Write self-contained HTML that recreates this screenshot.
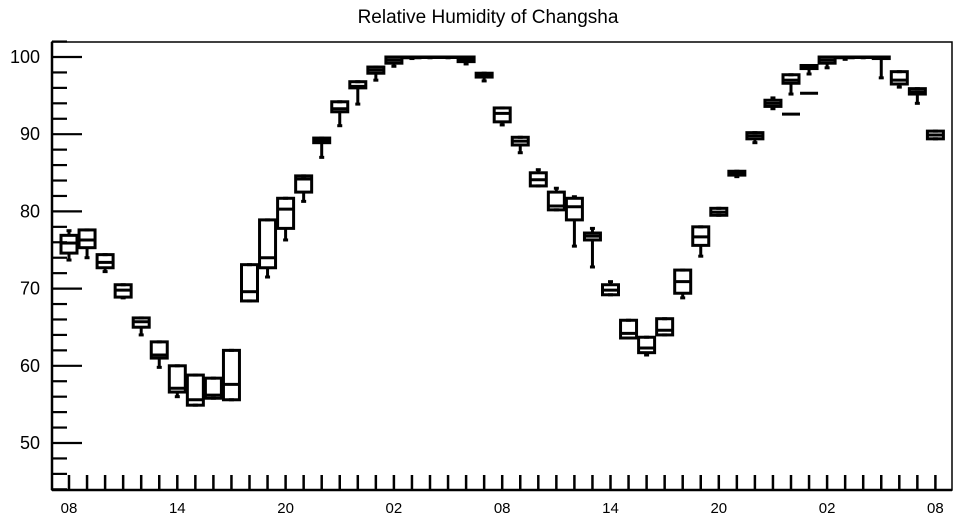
<!DOCTYPE html>
<html><head><meta charset="utf-8"><style>
body{margin:0;background:#fff;}
svg{display:block;font-family:"Liberation Sans",sans-serif;}
</style></head><body>
<svg id="chart" width="957" height="520" viewBox="0 0 957 520">
<text x="488" y="23" font-size="19" text-anchor="middle">Relative Humidity of Changsha</text>
<rect x="52" y="42" width="900" height="448" fill="none" stroke="#000" stroke-width="1.5"/>
<g id="axes"></g>
<g id="marks"></g>
</svg>
<script>
const hourLabels = ["08","14","20","02","08","14","20","02","08"];
const yTicks = [50,60,70,80,90,100];
const mins = [73.7,74.0,72.2,68.8,64.0,59.8,56.0,54.9,55.8,55.6,68.4,71.5,76.3,81.3,87.0,91.1,93.9,97.0,98.8,99.8,99.9,99.9,99.1,96.9,91.2,87.6,83.3,80.2,75.5,72.8,69.2,63.6,61.4,64.0,68.8,74.2,79.5,84.5,88.9,93.3,95.2,97.8,98.6,99.7,99.9,97.3,96.1,94.0,89.4];
const q1s = [74.6,75.3,72.7,68.9,65.0,61.0,56.6,54.9,55.8,55.6,68.4,72.7,77.8,82.5,88.9,92.9,96.0,97.9,99.2,99.9,100,100,99.4,97.4,91.6,88.6,83.3,80.2,78.9,76.3,69.2,63.6,61.7,64.0,69.4,75.6,79.5,84.7,89.4,93.6,96.6,98.5,99.2,99.9,100,99.8,96.5,95.2,89.4];
const medians = [75.9,76.3,73.4,69.8,65.7,61.4,57.1,55.6,56.2,57.6,69.6,74.0,80.3,84.2,89.2,93.3,96.2,98.3,99.6,100,100,100,99.7,97.6,92.7,89.1,84.1,80.7,80.6,76.8,69.8,64.2,62.3,64.6,70.9,76.7,79.9,85.0,89.8,94.0,97.0,98.7,99.6,100,100,100,97.0,95.5,89.9];
const q3s = [76.9,77.6,74.4,70.5,66.2,63.1,60.0,58.8,58.4,62.0,73.1,78.9,81.7,84.6,89.5,94.2,96.8,98.7,100,100,100,100,100,97.9,93.4,89.6,85.0,82.5,81.7,77.2,70.5,65.9,63.7,66.1,72.4,78.0,80.4,85.2,90.2,94.4,97.7,98.9,100,100,100,100,98.1,95.9,90.4];
const maxs = [77.5,77.6,74.4,70.5,66.2,63.1,60.0,58.8,58.4,62.0,73.1,78.9,81.7,84.6,89.5,94.2,96.8,98.7,100,100,100,100,100,97.9,93.4,89.6,85.4,83.0,81.9,77.8,70.9,65.9,63.7,66.1,72.4,78.0,80.4,85.2,90.2,94.7,97.7,98.9,100,100,100,100,98.1,95.9,90.4];
const extraIdx = [40,41];
const extraVals = [92.6,95.3];

const NS="http://www.w3.org/2000/svg";
const X0=52,X1=952,Y0=42,Y1=490;
function xS(i){return 69+18.05*i;}
function yS(v){return 57+(100-v)*7.72;}
function mk(tag,attrs,parent){const e=document.createElementNS(NS,tag);for(const k in attrs)e.setAttribute(k,attrs[k]);parent.appendChild(e);return e;}
const axes=document.getElementById('axes'), marks=document.getElementById('marks');

const yAxis=mk('line',{x1:X0,y1:Y0,x2:X0,y2:Y1,stroke:'#000','stroke-width':2.5},axes);


const xAxis=mk('line',{x1:X0,y1:Y1,x2:X1,y2:Y1,stroke:'#000','stroke-width':2.5},axes);



for(let v=44;v<=102;v+=2){
  const major=(v%10===0);
  const t=mk('line',{x1:X0,y1:yS(v),x2:X0+(major?30:15),y2:yS(v),stroke:'#000','stroke-width':2.2},axes);
  
  
}
yTicks.forEach(v=>{
  const t=mk('text',{x:40,y:yS(v)+6,'font-size':18,'text-anchor':'end'},axes);
  t.textContent=v;
  
  
});
for(let i=0;i<49;i++){
  const t=mk('line',{x1:xS(i),y1:Y1,x2:xS(i),y2:Y1-15,stroke:'#000','stroke-width':2.5},axes);
  
  
}
hourLabels.forEach((h,k)=>{
  const t=mk('text',{x:xS(k*6),y:513,'font-size':15,'text-anchor':'middle'},axes);
  t.textContent=h;
  
  
});

const hw=8;
for(let i=0;i<mins.length;i++){
  const g=mk('g',{stroke:'#000','stroke-width':3,fill:'none'},marks);
  
  
  const x=xS(i);
  const yq3=yS(q3s[i]), yq1=yS(q1s[i]);
  mk('line',{x1:x,y1:yS(maxs[i]),x2:x,y2:yq3},g);
  mk('line',{x1:x,y1:yq1,x2:x,y2:yS(mins[i])},g);
  mk('line',{x1:x-2.5,y1:yS(maxs[i]),x2:x+2.5,y2:yS(maxs[i])},g);
  mk('line',{x1:x-2.5,y1:yS(mins[i]),x2:x+2.5,y2:yS(mins[i])},g);
  mk('rect',{x:x-hw,y:yq3,width:2*hw,height:Math.max(yq1-yq3,0.5)},g);
  mk('line',{x1:x-hw,y1:yS(medians[i]),x2:x+hw,y2:yS(medians[i])},g);
}
extraIdx.forEach((idx,k)=>{
  const l=mk('line',{x1:xS(idx)-9,y1:yS(extraVals[k]),x2:xS(idx)+9,y2:yS(extraVals[k]),stroke:'#000','stroke-width':3},marks);
  
  
});
</script>
</body></html>
